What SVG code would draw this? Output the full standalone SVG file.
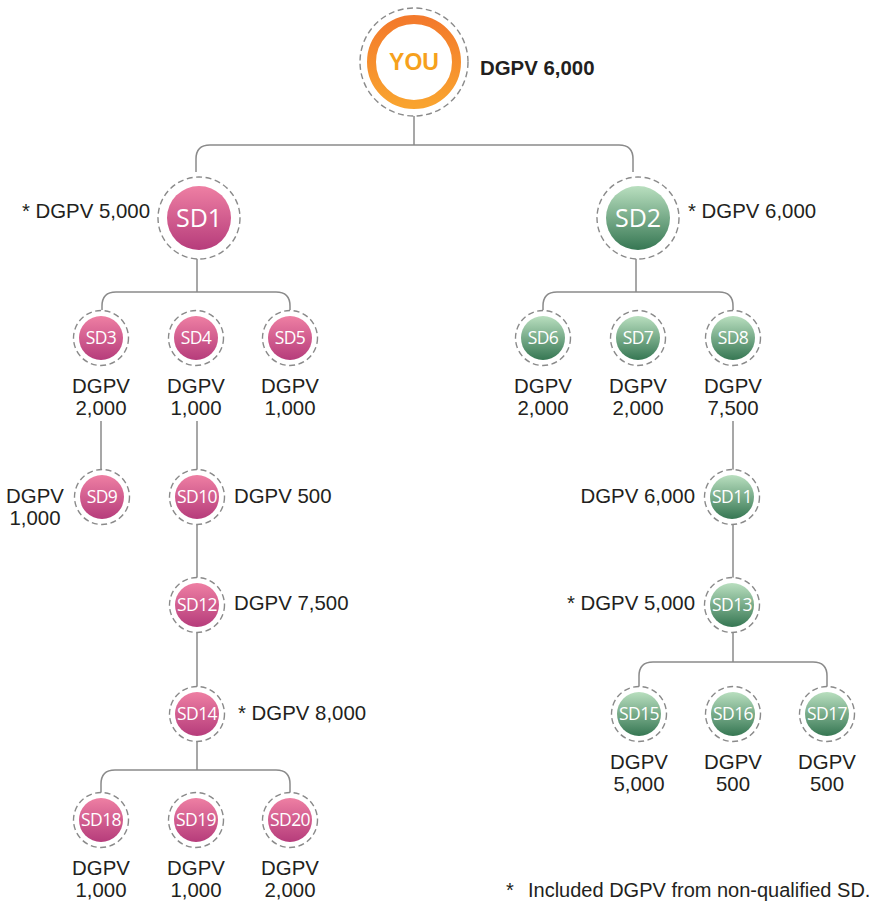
<svg xmlns="http://www.w3.org/2000/svg" width="878" height="902" viewBox="0 0 878 902">
<defs>
<linearGradient id="pink" x1="0" y1="0" x2="0" y2="1"><stop offset="0" stop-color="#ee7fa3"/><stop offset="1" stop-color="#b63c7b"/></linearGradient>
<linearGradient id="green" x1="0" y1="0" x2="0" y2="1"><stop offset="0" stop-color="#b9dfbf"/><stop offset="1" stop-color="#367753"/></linearGradient>
<linearGradient id="orange" x1="0" y1="0" x2="0" y2="1"><stop offset="0" stop-color="#f37a2c"/><stop offset="1" stop-color="#f9a32f"/></linearGradient>
<style>
.dash{fill:#fff;stroke:#8a8a8a;stroke-width:1.4;stroke-dasharray:6 3.5}
.p{fill:url(#pink)}
.g{fill:url(#green)}
.nt{font-family:"Open Sans","Noto Sans",sans-serif;fill:#fff;text-anchor:middle}
.big{font-size:25px}
.sm{font-size:17.5px;letter-spacing:-0.6px}
.lb{font-family:"Liberation Sans",Arial,sans-serif;font-size:20.4px;fill:#231f20}
.c{text-anchor:middle}
.e{text-anchor:end}
.con{fill:none;stroke:#8a8a8a;stroke-width:1.5}
</style>
</defs>
<rect width="878" height="902" fill="#fff"/>
<g id="connectors">
<path class="con" d="M414 116 V145 M196 172 V159 Q196 145 210 145 H619 Q633 145 633 159 V172"/>
<path class="con" d="M197 258 V292 M102 310 V306 Q102 292 116 292 H276 Q290 292 290 306 V310"/>
<path class="con" d="M636 258 V292 M543 310 V306 Q543 292 557 292 H719 Q733 292 733 306 V310"/>
<path class="con" d="M101 421 V470"/>
<path class="con" d="M197 421 V470 M197 525 V578 M197 633 V687 M197 741 V770"/>
<path class="con" d="M101 793 V784 Q101 770 115 770 H276 Q290 770 290 784 V793"/>
<path class="con" d="M733 421 V470 M733 525 V578 M733 633 V662"/>
<path class="con" d="M639 687 V676 Q639 662 653 662 H813 Q827 662 827 676 V687"/>
</g>
<g id="you">
<circle class="dash" cx="414" cy="62" r="54"/>
<circle cx="414" cy="62" r="42.5" fill="#fff" stroke="url(#orange)" stroke-width="9"/>
<text x="414" y="70" font-family="Liberation Sans,Arial,sans-serif" font-weight="bold" font-size="23" fill="#f6a11d" text-anchor="middle">YOU</text>
<text x="480" y="75" font-family="Liberation Sans,Arial,sans-serif" font-weight="bold" font-size="20.4" fill="#231f20">DGPV 6,000</text>
</g>
<g id="sd1">
<circle class="dash" cx="199" cy="218" r="41"/>
<circle class="p" cx="199" cy="218" r="32"/>
<text class="nt big" x="199" y="227">SD1</text>
<text class="lb e" x="150" y="218">* DGPV 5,000</text>
</g>
<g id="sd2">
<circle class="dash" cx="638" cy="218" r="41"/>
<circle class="g" cx="638" cy="218" r="32"/>
<text class="nt big" x="638" y="227">SD2</text>
<text class="lb" x="688" y="218">* DGPV 6,000</text>
</g>
<g id="sd3">
<circle class="dash" cx="101" cy="338" r="27.5"/>
<circle class="p" cx="101" cy="338" r="22"/>
<text class="nt sm" x="101" y="344">SD3</text>
<text class="lb c" x="101" y="393">DGPV</text><text class="lb c" x="101" y="415">2,000</text>
</g>
<g id="sd4">
<circle class="dash" cx="196" cy="338" r="27.5"/>
<circle class="p" cx="196" cy="338" r="22"/>
<text class="nt sm" x="196" y="344">SD4</text>
<text class="lb c" x="196" y="393">DGPV</text><text class="lb c" x="196" y="415">1,000</text>
</g>
<g id="sd5">
<circle class="dash" cx="290" cy="338" r="27.5"/>
<circle class="p" cx="290" cy="338" r="22"/>
<text class="nt sm" x="290" y="344">SD5</text>
<text class="lb c" x="290" y="393">DGPV</text><text class="lb c" x="290" y="415">1,000</text>
</g>
<g id="sd6">
<circle class="dash" cx="543" cy="338" r="27.5"/>
<circle class="g" cx="543" cy="338" r="22"/>
<text class="nt sm" x="543" y="344">SD6</text>
<text class="lb c" x="543" y="393">DGPV</text><text class="lb c" x="543" y="415">2,000</text>
</g>
<g id="sd7">
<circle class="dash" cx="638" cy="338" r="27.5"/>
<circle class="g" cx="638" cy="338" r="22"/>
<text class="nt sm" x="638" y="344">SD7</text>
<text class="lb c" x="638" y="393">DGPV</text><text class="lb c" x="638" y="415">2,000</text>
</g>
<g id="sd8">
<circle class="dash" cx="733" cy="338" r="27.5"/>
<circle class="g" cx="733" cy="338" r="22"/>
<text class="nt sm" x="733" y="344">SD8</text>
<text class="lb c" x="733" y="393">DGPV</text><text class="lb c" x="733" y="415">7,500</text>
</g>
<g id="sd9">
<circle class="dash" cx="102" cy="497" r="27.5"/>
<circle class="p" cx="102" cy="497" r="22"/>
<text class="nt sm" x="102" y="503">SD9</text>
<text class="lb c" x="35" y="503">DGPV</text><text class="lb c" x="35" y="525">1,000</text>
</g>
<g id="sd10">
<circle class="dash" cx="197" cy="497" r="27.5"/>
<circle class="p" cx="197" cy="497" r="22"/>
<text class="nt sm" x="197" y="503">SD10</text>
<text class="lb" x="234" y="503">DGPV 500</text>
</g>
<g id="sd11">
<circle class="dash" cx="732" cy="497" r="27.5"/>
<circle class="g" cx="732" cy="497" r="22"/>
<text class="nt sm" x="732" y="503">SD11</text>
<text class="lb e" x="695" y="503">DGPV 6,000</text>
</g>
<g id="sd12">
<circle class="dash" cx="197" cy="605" r="27.5"/>
<circle class="p" cx="197" cy="605" r="22"/>
<text class="nt sm" x="197" y="611">SD12</text>
<text class="lb" x="234" y="610">DGPV 7,500</text>
</g>
<g id="sd13">
<circle class="dash" cx="732" cy="605" r="27.5"/>
<circle class="g" cx="732" cy="605" r="22"/>
<text class="nt sm" x="732" y="611">SD13</text>
<text class="lb e" x="695" y="610">* DGPV 5,000</text>
</g>
<g id="sd14">
<circle class="dash" cx="197" cy="714" r="27.5"/>
<circle class="p" cx="197" cy="714" r="22"/>
<text class="nt sm" x="197" y="720">SD14</text>
<text class="lb" x="238" y="720">* DGPV 8,000</text>
</g>
<g id="sd15">
<circle class="dash" cx="639" cy="714" r="27.5"/>
<circle class="g" cx="639" cy="714" r="22"/>
<text class="nt sm" x="639" y="720">SD15</text>
<text class="lb c" x="639" y="769">DGPV</text><text class="lb c" x="639" y="791">5,000</text>
</g>
<g id="sd16">
<circle class="dash" cx="733" cy="714" r="27.5"/>
<circle class="g" cx="733" cy="714" r="22"/>
<text class="nt sm" x="733" y="720">SD16</text>
<text class="lb c" x="733" y="769">DGPV</text><text class="lb c" x="733" y="791">500</text>
</g>
<g id="sd17">
<circle class="dash" cx="827" cy="714" r="27.5"/>
<circle class="g" cx="827" cy="714" r="22"/>
<text class="nt sm" x="827" y="720">SD17</text>
<text class="lb c" x="827" y="769">DGPV</text><text class="lb c" x="827" y="791">500</text>
</g>
<g id="sd18">
<circle class="dash" cx="101" cy="820" r="27.5"/>
<circle class="p" cx="101" cy="820" r="22"/>
<text class="nt sm" x="101" y="826">SD18</text>
<text class="lb c" x="101" y="875">DGPV</text><text class="lb c" x="101" y="897">1,000</text>
</g>
<g id="sd19">
<circle class="dash" cx="196" cy="820" r="27.5"/>
<circle class="p" cx="196" cy="820" r="22"/>
<text class="nt sm" x="196" y="826">SD19</text>
<text class="lb c" x="196" y="875">DGPV</text><text class="lb c" x="196" y="897">1,000</text>
</g>
<g id="sd20">
<circle class="dash" cx="290" cy="820" r="27.5"/>
<circle class="p" cx="290" cy="820" r="22"/>
<text class="nt sm" x="290" y="826">SD20</text>
<text class="lb c" x="290" y="875">DGPV</text><text class="lb c" x="290" y="897">2,000</text>
</g>
<g id="footnote">
<text x="506" y="897" font-family="Liberation Sans,Arial,sans-serif" font-size="20" fill="#231f20">*</text>
<text x="528" y="897" font-family="Liberation Sans,Arial,sans-serif" font-size="20" fill="#231f20">Included DGPV from non-qualified SD.</text>
</g>
</svg>
